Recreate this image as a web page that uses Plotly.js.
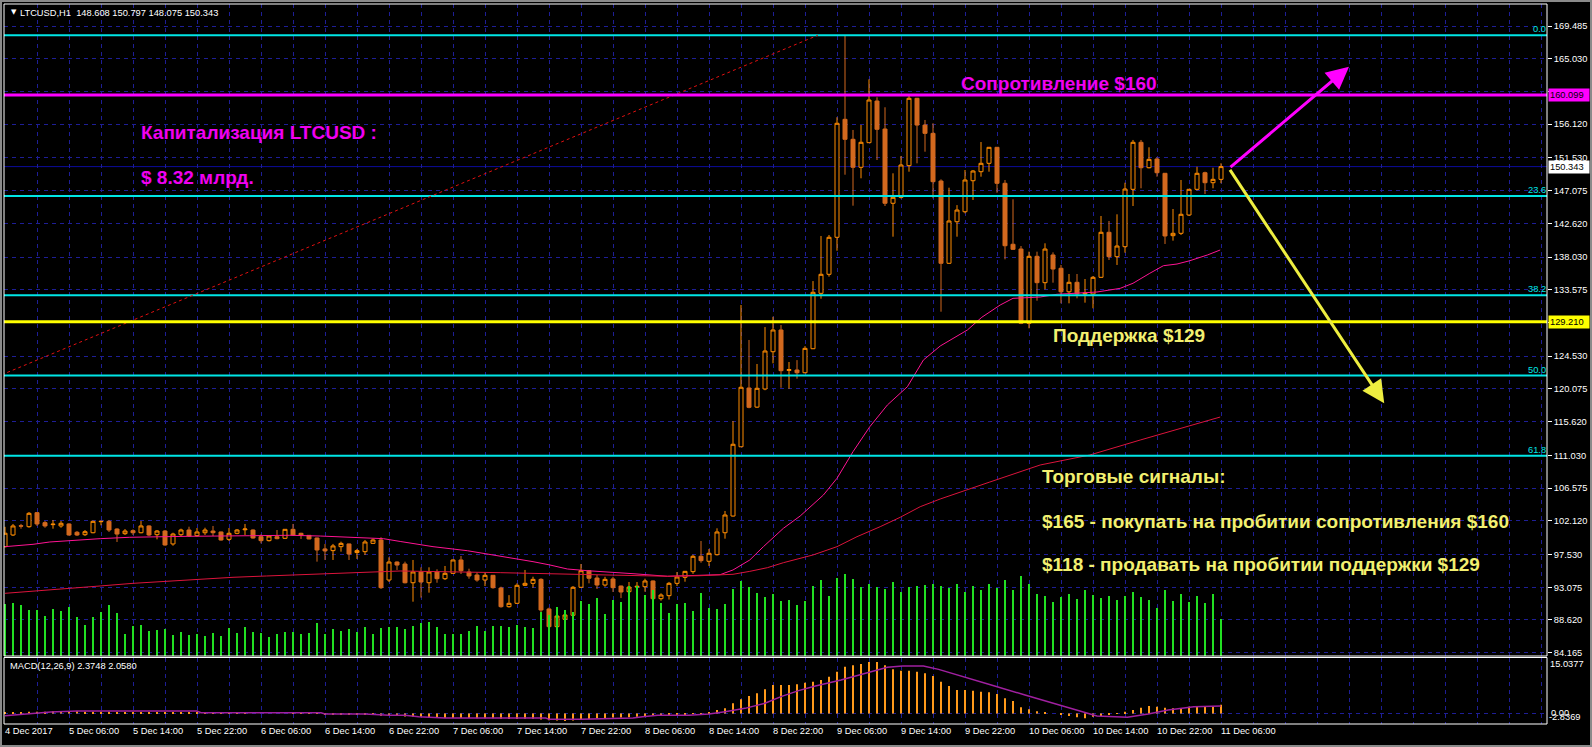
<!DOCTYPE html>
<html><head><meta charset="utf-8">
<script src="https://cdn.plot.ly/plotly-3.0.1.min.js"></script>
<style>html,body{margin:0;padding:0;background:#000;overflow:hidden}#chart{width:1592px;height:747px}</style>
</head><body><div id="chart"></div>
<script>
// ---------- data: LTCUSD H1, 4 Dec 22:00 .. 11 Dec 06:00 ----------
const openP = [98.6,100.19,101.45,101.32,103.23,101.87,101.6,101.42,101.69,100.56,
100.23,100.5,102.0,102.05,101.0,100.37,100.78,100.5,101.42,100.23,
100.73,98.97,100.23,100.87,100.1,100.5,100.73,100.6,99.6,100.42,
100.9,100.87,99.96,99.42,99.96,99.74,100.96,100.42,100.14,99.78,
98.29,98.06,98.6,98.97,97.8,97.92,99.05,99.51,94.06,96.51,
96.24,93.69,95.15,93.69,95.15,94.24,94.97,96.79,95.15,94.74,
94.06,94.7,92.97,90.43,90.89,93.34,93.61,94.15,90.12,87.71,
88.71,89.26,93.07,95.33,94.33,93.38,94.2,93.24,92.47,93.1,
93.15,93.93,91.52,91.93,93.61,94.43,95.2,97.29,96.61,97.51,
100.5,102.77,112.2,120.2,117.6,120.07,125.14,128.1,122.6,122.65,
122.28,125.55,133.09,135.68,140.72,156.78,154.06,150.25,153.6,159.27,
155.46,145.35,146.16,150.47,159.64,156.0,154.87,148.38,137.18,142.84,
144.2,148.42,149.65,150.79,152.97,148.07,139.77,139.12,129.01,138.13,
134.54,138.31,136.5,133.3,134.59,133.0,133.0,135.27,141.4,138.08,
139.44,147.25,153.65,150.19,151.38,149.43,140.94,141.26,143.75,147.25,
149.51,148.15,148.608];
const highP = [101.3,101.69,101.7,103.32,103.32,102.09,102.23,102.09,101.78,100.73,
100.87,102.14,102.1,102.23,101.1,101.0,100.96,102.09,101.51,100.87,
100.87,100.5,101.05,101.32,101.14,101.18,101.42,100.65,101.14,101.0,
101.69,100.96,100.28,100.1,100.87,101.0,101.69,100.5,100.19,99.83,
98.97,98.97,99.28,99.0,98.29,99.51,99.69,99.88,97.15,96.6,
96.56,96.79,95.79,95.79,95.52,95.97,96.85,97.33,95.6,95.1,
95.1,94.75,93.15,92.0,93.61,95.43,94.51,94.3,90.3,89.3,
89.98,93.24,96.24,95.4,94.74,94.5,94.5,93.3,93.79,93.79,
94.24,94.0,92.25,93.8,95.15,95.3,97.5,99.37,98.29,101.1,
103.46,115.7,131.5,126.74,123.47,128.5,129.9,128.78,123.74,124.0,
125.9,134.76,140.9,141.03,157.06,168.2,155.33,156.01,162.23,159.78,
158.42,149.43,151.79,160.09,159.7,156.69,156.24,148.61,147.47,145.1,
149.88,149.88,153.69,153.0,153.0,148.52,145.89,139.53,138.76,138.76,
139.9,138.67,136.95,135.72,135.72,135.04,135.45,143.62,142.94,143.85,
148.15,153.97,153.97,152.97,151.61,149.43,144.57,148.52,147.3,150.33,
149.65,150.19,150.797];
const lowP = [98.5,100.05,101.05,101.18,101.42,101.18,101.05,101.18,100.1,100.05,
100.05,100.42,101.51,100.6,99.24,100.19,100.19,100.42,100.05,99.6,
98.73,98.73,100.05,99.96,99.96,100.19,100.05,99.42,99.37,100.3,
100.19,99.69,99.05,99.3,99.6,99.65,100.05,99.65,99.6,96.56,
96.79,96.79,97.92,96.79,96.93,97.47,99.0,92.84,93.79,95.43,
93.6,91.11,91.66,92.34,93.69,94.06,94.9,94.88,94.24,93.83,
93.24,92.88,90.29,90.3,90.8,93.24,93.02,89.61,87.65,87.65,
88.62,89.0,93.0,93.61,92.84,93.15,92.43,91.6,92.4,92.7,
92.47,91.4,91.25,91.4,93.24,93.83,94.9,96.42,95.97,97.4,
99.69,102.7,112.2,117.44,117.5,119.9,123.56,120.24,120.1,121.47,
122.2,125.5,132.36,135.36,138.89,149.24,145.02,148.75,153.6,151.24,
144.98,140.8,146.0,149.65,150.79,152.37,146.03,130.59,137.1,140.8,
143.98,145.8,148.97,149.65,146.79,137.72,139.0,128.9,128.33,132.09,
133.64,134.54,131.73,131.73,132.41,131.82,131.05,135.2,137.63,136.95,
138.62,144.98,147.39,150.1,148.97,139.81,140.26,141.03,143.62,147.1,
146.61,147.39,148.075];
const closeP = [100.43,101.42,101.4,103.14,101.69,101.42,101.66,101.78,100.19,100.19,
100.64,102.05,102.05,100.87,100.32,100.73,100.5,101.42,100.19,100.73,
98.83,100.32,100.87,100.05,100.6,100.87,100.5,99.51,100.42,100.87,
101.0,99.78,99.42,100.05,99.69,100.96,100.19,100.19,99.65,98.15,
98.02,98.7,99.05,97.6,98.06,99.24,99.51,93.02,96.51,96.1,
93.69,95.15,93.79,95.15,94.24,94.97,96.79,95.33,94.61,94.06,
94.7,93.02,90.43,90.89,93.34,93.61,94.15,89.98,87.71,89.16,
89.3,93.07,95.33,94.3,93.38,94.15,93.02,92.43,93.1,93.2,
93.93,91.52,92.02,93.61,94.47,95.24,97.29,96.7,97.7,100.6,
102.91,112.54,120.3,117.57,120.16,125.24,128.1,122.56,122.7,122.28,
125.6,133.23,135.68,140.72,156.24,154.06,150.25,153.65,159.41,155.42,
145.35,146.16,150.56,159.64,156.0,154.87,148.29,137.18,142.94,144.43,
148.52,149.74,150.79,152.97,148.07,139.57,139.08,129.01,138.13,134.54,
139.12,136.4,133.3,134.59,133.0,133.1,135.27,141.4,138.08,139.53,
147.29,153.65,150.19,151.33,149.51,140.9,141.26,143.85,147.25,149.43,
148.15,148.61,150.343];
const volume = [5200,5300,5100,4600,4600,4000,4700,4500,4900,3900,3100,3900,4400,5100,4300,2200,3000,3100,2500,2600,
2700,2100,2400,2100,2200,2000,2300,2000,2800,2300,2900,2400,2300,1900,2200,2400,2400,2200,2300,3300,
2200,2700,2500,2700,2400,2900,2200,2800,2900,2900,
2700,3000,3300,3400,2900,2200,2200,2200,2500,3000,2500,3000,3000,2900,3100,2900,2800,4400,4100,4900,
4600,4400,5500,5200,5800,4200,5600,5400,7000,7000,6100,6600,5300,4300,5200,5300,4500,6300,4800,4700,
5200,6700,7500,6900,6300,5900,6200,5500,5600,5100,
5500,7000,7600,6000,7800,8200,7700,6900,7200,6900,6700,7400,6400,6900,7000,7100,7200,
7000,6800,7200,6400,7000,6600,7200,6800,7600,6600,8000,7200,6200,
6000,5400,5900,6200,5700,6600,6100,5800,6000,5600,6000,6400,5900,5600,4800,6600,5500,6200,5400,6000,
5300,6200,3700];
const macdMain = [0.3,0.4,0.4,0.5,0.5,0.5,0.6,0.6,0.6,0.6,0.5,0.5,0.5,0.5,0.4,0.4,0.4,0.4,0.3,0.3,0.3,0.3,0.2,0.2,
0.2,0.2,0.1,0.1,0.1,0.1,0.1,0.0,0.0,0.0,0.0,0.0,-0.1,-0.1,-0.1,-0.1,
-0.2,-0.2,-0.2,-0.3,-0.3,-0.3,-0.4,-0.6,
-0.7,-0.7,-0.8,-0.9,-0.9,-1.0,-1.1,-1.2,
-1.2,-1.2,-1.2,-1.3,-1.3,-1.3,-1.4,-1.5,-1.5,-1.4,-1.4,-1.6,
-1.8,-1.9,-2.0,-1.9,-1.7,-1.5,
-1.3,-1.2,-1.1,-1.1,-1.0,-0.9,-0.8,
-0.7,-0.6,-0.5,-0.4,-0.3,-0.1,0.1,0.3,
0.95,1.4,2.77,3.85,4.75,5.47,6.56,7.7,7.7,7.7,7.9,
8.35,8.62,9.08,9.98,11.33,12.68,13.06,13.41,13.95,13.95,13.06,11.96,11.6,11.6,11.33,10.89,10.16,8.62,7.46,6.37,
6.37,6.19,5.92,5.74,5.29,4.12,3.39,1.67,1.13,0.59,0.32,0.0,-0.4,-0.67,-1.02,-1.3,-0.85,-0.67,-0.4,0.14,
0.5,0.95,1.58,2.04,1.85,1.58,1.4,1.22,1.85,1.85,1.85,1.85,2.37];
// MACD signal line, read at these bar positions
const sigIdx = [0,5.7,9,24,24.5,39.5,40,45,48,50,51.7,55,67.6,68,72,74.6,78.5,79.7,81.6,85.5,88,90,92.5,95,97,99.2,101.3,104.5,107.7,110.3,112.2,114.8,116.7,119.9,123.7,127.5,131.4,134.6,136.5,140.3,142.9,145.4,148.6,152];
const sigVal = [-0.6,0.41,0.68,0.68,0.23,0.23,-0.13,-0.13,-0.49,-0.49,-0.85,-1.21,-1.21,-1.57,-1.57,-1.39,-1.21,-0.85,-0.49,-0.49,-0.13,0.5,1.4,2.77,4.57,6.2,7.46,9.08,10.89,12.51,12.87,12.87,11.96,9.98,7.46,5.02,2.59,0.5,-0.67,-1.03,-0.13,0.95,1.85,2.058];
// moving averages, read at these bar positions
const maFastIdx = [0,3.5,5.6,8.5,11.9,15.6,19.4,22.8,30.6,35.6,39.4,43.5,47.3,49.4,53.5,57.8,61.9,66,68.1,70.3,72.8,74.4,78.5,82.8,86.9,89.4,91,91.9,93.1,94.8,97.3,99.4,102.3,104,106,108.1,110.3,112.8,114.8,116.9,120.3,122.1,124.4,126,129.4,131.5,134.4,136.5,139.4,141,143.1,144.8,146.5,148.1,150.3,151.9];
const maFastVal = [98.6,98.92,99.24,99.47,99.69,99.88,99.96,100.01,100.09,100.15,100.05,99.88,99.69,99.31,98.6,98.05,97.33,96.56,96.11,95.56,95.33,95.19,94.92,94.57,94.7,94.79,95.43,95.97,96.79,98.6,101.1,102.78,105.63,107.91,111.53,114.93,117.89,120.38,124.01,125.92,128.1,129.83,131.5,132.41,132.59,132.96,133.09,133.27,133.77,134.46,135.82,136.85,137.08,137.53,138.31,138.99];
const maSlowIdx = [0,3.5,7.7,11.9,16,20.2,24.4,28.5,32.7,36.9,41,45.2,49.4,61.9,66,70.3,74.4,78.5,82.8,86.9,91,93.1,95.3,97.3,99.4,101,104,106.5,109.4,111.9,114.4,116.9,123.1,129.4,135.6,141.9,151.9];
const maSlowVal = [92.25,92.52,92.93,93.25,93.61,93.89,94.16,94.43,94.61,94.79,94.97,95.11,95.29,95.06,94.97,94.84,94.74,94.65,94.57,94.65,94.84,95.24,95.74,96.42,96.96,97.47,98.6,99.96,101.32,102.6,104.04,105.09,107.4,109.72,111.08,113.12,116.25];
// tick labels
const priceTickVals = [169.485,165.030,160.575,156.120,151.530,147.075,142.620,138.030,133.575,129.075,124.530,120.075,115.620,111.030,106.575,102.120,97.530,93.075,88.620,84.165];
const priceTickText = ['169.485','165.030','','156.120','151.530','147.075','142.620','138.030','133.575','','124.530','120.075','115.620','111.030','106.575','102.120','97.530','93.075','88.620','84.165'];
const timeTickIdx = [0,4,8,12,16,20,24,28,32,36,40,44,48,52,56,60,64,68,72,76,80,84,88,92,96,100,104,108,112,116,120,124,128,132,136,140,144,148,152,156,160,164,168,172,176,180,184,188,192];
const timeTickText = ['4 Dec 2017','','5 Dec 06:00','','5 Dec 14:00','','5 Dec 22:00','','6 Dec 06:00','','6 Dec 14:00','','6 Dec 22:00','','7 Dec 06:00','','7 Dec 14:00','','7 Dec 22:00','','8 Dec 06:00','','8 Dec 14:00','','8 Dec 22:00','','9 Dec 06:00','','9 Dec 14:00','','9 Dec 22:00','','10 Dec 06:00','','10 Dec 14:00','','10 Dec 22:00','','11 Dec 06:00','','','','','','','','','',''];
// levels
const resistance = 160.099, support = 129.210, bid = 150.343;
const fibHigh = 168.22, fibLow = 75.57, fibHighIdx = 101.6, fibLowIdx = -102.9;
const fibRatios = [0.0, 23.6, 38.2, 50.0, 61.8];
const macdMax = 15.0377, macdMin = -2.8369;

const barIndex = openP.map((_, i) => i);

// ---------- layout helpers (pixel -> paper) ----------
const PL = 4, PR = 1547, PT = 4, PB = 724;
const px2x = p => (p - PL) / (PR - PL);
const px2y = p => (PB - p) / (PB - PT);
const GRID = '#1e1e96', FONT = 'Liberation Sans';

const traces = [
  {type:'candlestick', x:barIndex, open:openP, high:highP, low:lowP, close:closeP,
   xaxis:'x', yaxis:'y', whiskerwidth:0, hoverinfo:'skip',
   increasing:{line:{color:'#FF8C00', width:1}, fillcolor:'#000000'},
   decreasing:{line:{color:'#D2691E', width:1}, fillcolor:'#D2691E'}},
  {type:'scatter', mode:'lines', x:maFastIdx, y:maFastVal, xaxis:'x', yaxis:'y',
   line:{color:'#FF1493', width:1}, hoverinfo:'skip'},
  {type:'scatter', mode:'lines', x:maSlowIdx, y:maSlowVal, xaxis:'x', yaxis:'y',
   line:{color:'#DC143C', width:1}, hoverinfo:'skip'},
  {type:'bar', x:barIndex, y:volume, xaxis:'x', yaxis:'y3', width:0.13,
   marker:{color:'#22E022', line:{width:0}}, hoverinfo:'skip'},
  {type:'bar', x:barIndex, y:macdMain, xaxis:'x', yaxis:'y2', width:0.13,
   marker:{color:'#FF9A1A', line:{width:0}}, hoverinfo:'skip'},
  {type:'scatter', mode:'lines', x:sigIdx, y:sigVal, xaxis:'x', yaxis:'y2',
   line:{color:'#A020A0', width:1.5}, hoverinfo:'skip'}
];

const fibLevels = fibRatios.map(r => fibHigh - r / 100 * (fibHigh - fibLow));

const shapes = [];
// Fibonacci levels
fibLevels.forEach(v => shapes.push({type:'line', xref:'paper', yref:'y', x0:0, x1:1, y0:v, y1:v,
  line:{color:'#00E6E6', width:2}, layer:'above'}));
// Fibonacci trend (dotted)
shapes.push({type:'line', xref:'x', yref:'y', x0:fibLowIdx, y0:fibLow, x1:fibHighIdx, y1:fibHigh,
  line:{color:'#E01010', width:1, dash:'dot'}, layer:'above'});
// bid line
shapes.push({type:'line', xref:'paper', yref:'y', x0:0, x1:1, y0:bid, y1:bid, line:{color:'#0c0c9a', width:1}, layer:'below'});
// resistance / support
shapes.push({type:'line', xref:'paper', yref:'y', x0:0, x1:1, y0:resistance, y1:resistance, line:{color:'#FF00FF', width:3}, layer:'above'});
shapes.push({type:'line', xref:'paper', yref:'y', x0:0, x1:1, y0:support, y1:support, line:{color:'#FFFF00', width:3}, layer:'above'});
// window borders
shapes.push({type:'rect', xref:'paper', yref:'paper', x0:0, x1:1, y0:px2y(656), y1:1, line:{color:'#ffffff', width:1}, layer:'above'});
shapes.push({type:'rect', xref:'paper', yref:'paper', x0:0, x1:1, y0:0, y1:px2y(657.5), line:{color:'#ffffff', width:1}, layer:'above'});
// outer frame
shapes.push({type:'rect', xref:'paper', yref:'paper', x0:px2x(1), x1:px2x(1591), y0:px2y(746), y1:px2y(1), line:{color:'#8a8a8a', width:2}, layer:'above'});

const annotations = [];
const small = {family:FONT, size:9.3, color:'#ffffff'};
annotations.push({xref:'paper', yref:'paper', x:px2x(9), y:px2y(12.5), xanchor:'left', yanchor:'middle', showarrow:false,
  text:'▼', font:{family:'DejaVu Sans', size:7, color:'#ffffff'}});
annotations.push({xref:'paper', yref:'paper', x:px2x(18), y:px2y(12.7), xanchor:'left', yanchor:'middle', showarrow:false,
  text:'LTCUSD,H1\u00A0\u00A0148.608 150.797 148.075 150.343', font:small});
annotations.push({xref:'paper', yref:'paper', x:px2x(8), y:px2y(666), xanchor:'left', yanchor:'middle', showarrow:false,
  text:'MACD(12,26,9) 2.3748 2.0580', font:small});
// fib labels
fibLevels.forEach((v, k) => annotations.push({xref:'paper', yref:'y', x:1, y:v, xanchor:'right', yanchor:'bottom',
  showarrow:false, text:fibRatios[k].toFixed(1), font:{family:FONT, size:9.3, color:'#00E6E6'}, borderpad:0}));
// price boxes on axis
[[resistance, '#FF00FF', '#000000'], [bid, '#FFFFFF', '#000000'], [support, '#FFFF00', '#000000']].forEach(b =>
  annotations.push({xref:'paper', yref:'y', x:1, y:b[0], xanchor:'left', yanchor:'middle', xshift:1, showarrow:false,
    text:b[0].toFixed(3), bgcolor:b[1], font:{family:FONT, size:9.3, color:b[2]}, borderpad:1, width:38, align:'left'}));
// MACD scale labels
annotations.push({xref:'paper', yref:'y2', x:1, y:macdMax, xanchor:'left', yanchor:'top', xshift:2, showarrow:false, text:macdMax.toFixed(4), font:small, borderpad:0});
annotations.push({xref:'paper', yref:'y2', x:1, y:0, xanchor:'left', yanchor:'middle', xshift:3, yshift:1, showarrow:false, text:'0.00', font:small, borderpad:0});
annotations.push({xref:'paper', yref:'y2', x:1, y:macdMin, xanchor:'left', yanchor:'bottom', xshift:1, yshift:1, showarrow:false, text:macdMin.toFixed(4), font:small, borderpad:0});
// big texts
const big = (t, x, y, c) => annotations.push({xref:'x', yref:'y', x:x, y:y, xanchor:'left', yanchor:'middle', showarrow:false,
  text:'<b>' + t + '</b>', font:{family:FONT, size:19, color:c}});
const MAG = '#F000F0', YEL = '#F2F070';
big('Капитализация LTCUSD :', 16.8, 155.05, MAG);
big('$ 8.32 млрд.', 16.8, 148.83, MAG);
big('Сопротивление $160', 119.3, 161.59, MAG);
big('Поддержка $129', 130.8, 127.35, YEL);
big('Торговые сигналы:', 129.4, 108.1, YEL);
big('$165 - покупать на пробитии сопротивления $160', 129.4, 102.0, YEL);
big('$118 - продавать на пробитии поддержки $129', 129.4, 96.24, YEL);
// arrows
annotations.push({xref:'x', yref:'y', axref:'x', ayref:'y', x:168.0, y:163.94, ax:153.0, ay:150.11, text:'', showarrow:true,
  arrowhead:2, arrowsize:1.5, arrowwidth:3, arrowcolor:'#FF00FF', standoff:0, startstandoff:0});
annotations.push({xref:'x', yref:'y', axref:'x', ayref:'y', x:172.4, y:118.12, ax:153.0, ay:150.11, text:'', showarrow:true,
  arrowhead:2, arrowsize:1.5, arrowwidth:3, arrowcolor:'#EEEE40', standoff:0, startstandoff:0});

const layout = {
  width:1592, height:747, autosize:false,
  paper_bgcolor:'#000000', plot_bgcolor:'#000000',
  margin:{l:PL, r:1592 - PR, t:PT, b:747 - PB, pad:0},
  showlegend:false, dragmode:false, hovermode:false,
  boxgap:0.5, boxgroupgap:0, barmode:'overlay',
  xaxis:{range:[-0.125, 192.75], anchor:'y2', rangeslider:{visible:false}, zeroline:false, showline:false,
    tickmode:'array', tickvals:timeTickIdx, ticktext:timeTickText, ticks:'', ticklabelposition:'outside right',
    tickfont:small, showgrid:true, gridcolor:GRID, griddash:'4px,4px', gridwidth:1, fixedrange:true},
  yaxis:{domain:[px2y(656), 1], range:[83.716, 172.48], side:'right', anchor:'x', zeroline:false, showline:false,
    tickmode:'array', tickvals:priceTickVals, ticktext:priceTickText, ticks:'outside', ticklen:4, tickcolor:'#ffffff',
    tickfont:small, showgrid:true, gridcolor:GRID, griddash:'4px,4px', gridwidth:1, fixedrange:true},
  yaxis2:{domain:[0, px2y(658)], range:[macdMin, macdMax], side:'right', anchor:'x', zeroline:false, showline:false,
    tickmode:'array', tickvals:[0], showticklabels:false, ticks:'', showgrid:true, gridcolor:GRID, griddash:'4px,4px', fixedrange:true},
  yaxis3:{overlaying:'y', range:[0, 65200], side:'right', anchor:'x', showgrid:false, zeroline:false, showline:false,
    showticklabels:false, ticks:'', fixedrange:true},
  shapes:shapes, annotations:annotations
};
Plotly.newPlot('chart', traces, layout, {displayModeBar:false, responsive:false});
</script></body></html>
